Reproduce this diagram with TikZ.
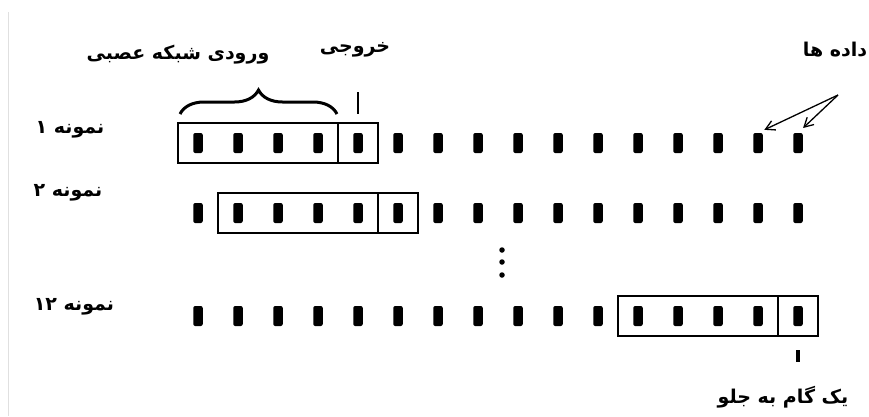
\documentclass[tikz,border=0pt]{standalone}
\usepackage{fontspec}
\newfontfamily\arabicfont[Script=Arabic]{DejaVu Sans}
\TeXXeTstate=1
\usetikzlibrary{decorations.pathreplacing,arrows.meta,calc}
\begin{document}
\begin{tikzpicture}[x=1pt,y=-1pt,
  bar/.style={fill=black, rounded corners=2pt, minimum width=9.5pt, minimum height=20pt, inner sep=0pt},
  win/.style={draw=black, line width=1.8pt, minimum width=200pt, minimum height=40pt, inner sep=0pt},
  divider/.style={draw=black, line width=1.8pt},
  lbl/.style={font=\arabicfont\bfseries\fontsize{19}{22}\selectfont, inner sep=0pt},
  dotnode/.style={circle, fill=black, minimum size=5.5pt, inner sep=0pt},
  pointer/.style={-{Straight Barb[length=9pt,width=10pt]}, line width=1.3pt, shorten >=7pt}]
\useasboundingbox (0,0) rectangle (869,416);
\draw[black!12, line width=1pt] (8,12) -- (8,416);
\foreach \k in {0,...,15} {
  \node[bar] (a\k) at ({198+40*\k},143) {};
  \node[bar] (b\k) at ({198+40*\k},213) {};
  \node[bar] (c\k) at ({198+40*\k},316) {};
}
% windows
\node[win] (w1) at (a2) {};
\node[win] (w2) at (b3) {};
\node[win] (w3) at (c13) {};
\coordinate (m1) at ($(a3)!0.5!(a4)$);
\coordinate (m2) at ($(b4)!0.5!(b5)$);
\coordinate (m3) at ($(c14)!0.5!(c15)$);
\draw[divider] (m1 |- w1.north) -- (m1 |- w1.south);
\draw[divider] (m2 |- w2.north) -- (m2 |- w2.south);
\draw[divider] (m3 |- w3.north) -- (m3 |- w3.south);
% brace and ticks
\draw[decorate, decoration={brace, amplitude=24pt}, line width=3pt] (180,114) -- (337,114);
\coordinate (t1a) at (358,92);
\coordinate (t1b) at (358,114);
\draw[line width=1.8pt] (t1a) -- (t1b);
\coordinate (t2a) at (798,350);
\coordinate (t2b) at (798,362);
\draw[line width=4pt] (t2a) -- (t2b);
% vertical dots
\node[dotnode] (d1) at (502,250) {};
\node[dotnode] (d2) at (502,262) {};
\node[dotnode] (d3) at (502,275) {};
% arrows
\coordinate (src) at (838,95);
\draw[pointer] (src) -- (a14.north);
\draw[pointer] (src) -- (a15.north);
% labels
\node[lbl] (data) at (835,50) {\beginR داده ها\endR};
\node[lbl] (out) at (355,50) {\beginR خروجی\endR};
\node[lbl] (in) at (178,55) {\beginR ورودی شبکه عصبی\endR};
\node[lbl] (s1) at (70,130) {\beginR نمونه ۱\endR};
\node[lbl] (s2) at (68,193) {\beginR نمونه ۲\endR};
\node[lbl] (s12) at (74,307) {\beginR نمونه \beginL ۱۲\endL\endR};
\node[lbl] (step) at (783,397) {\beginR یک گام به جلو\endR};
\end{tikzpicture}
\end{document}
